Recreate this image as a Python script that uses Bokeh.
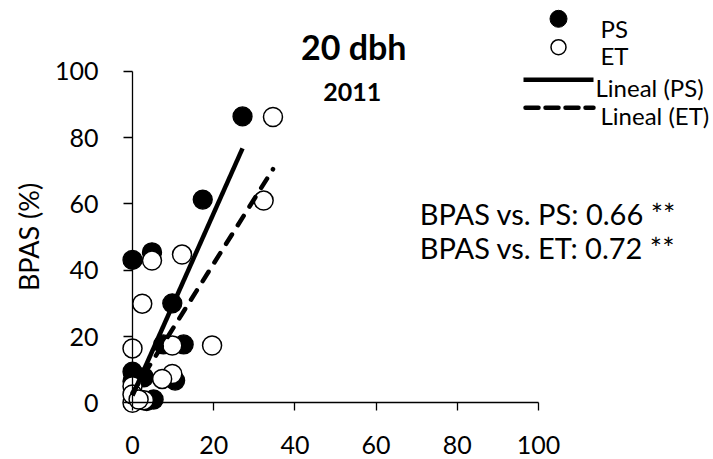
from bokeh.plotting import figure
from bokeh.models import Range1d, FixedTicker, Label
from bokeh.embed import file_html
from bokeh.resources import INLINE

# ---- data ----
ps_x = [27.1, 17.3, 0.0, 4.8, 9.8, 12.6, 7.6, 10.5, 0.0, 0.0, 2.8, 5.2, 0.5, 3.5]
ps_y = [86.4, 61.3, 43.1, 45.4, 30.0, 17.6, 17.6, 6.7, 9.4, 6.5, 7.7, 1.0, 2.0, 0.5]
et_x = [34.6, 32.3, 12.2, 4.8, 2.4, 0.0, 19.6, 9.8, 9.8, 7.3, 0.0, 0.0, 2.8, 0.0, 1.5]
et_y = [86.2, 61.0, 44.7, 42.9, 29.9, 16.4, 17.3, 17.3, 8.7, 7.2, 5.0, 0.0, 0.8, 2.5, 1.0]
trend_ps = [2.2, 2.75]   # intercept, slope
trend_et = [3.0, 1.95]
x_ticks = [0, 20, 40, 60, 80, 100]
y_ticks = [0, 20, 40, 60, 80, 100]
corr_labels = ["BPAS vs. PS: 0.66 **", "BPAS vs. ET: 0.72 **"]
legend_labels = ["PS", "ET", "Lineal (PS)", "Lineal (ET)"]
title_text = "20 dbh"
subtitle_text = "2011"

# ---- layout (pixels in figure space) ----
W, H = 713, 459
X0PX, XSCALE = 132.0, 4.06     # data x=0 at px 132, px per unit
Y0PX, YSCALE = 402.3, 3.315    # data y=0 at px 402.3, px per unit

def dx(px):
    return (px - X0PX) / XSCALE

def dy(py):
    return (Y0PX - py) / YSCALE

FONT = "Lato"

p = figure(width=W, height=H, x_range=Range1d(dx(0), dx(W)), y_range=Range1d(dy(H), dy(0)),
           output_backend="svg", toolbar_location=None, min_border=0,
           outline_line_color=None, background_fill_color="white")
p.xgrid.visible = False
p.ygrid.visible = False

for ax, ticks in ((p.xaxis[0], x_ticks), (p.yaxis[0], y_ticks)):
    ax.fixed_location = 0
    ax.bounds = (0, 100)
    ax.ticker = FixedTicker(ticks=ticks)
    ax.minor_tick_line_color = None
    ax.major_tick_in = 0
    ax.axis_line_color = "black"
    ax.axis_line_width = 1.3
    ax.major_tick_line_color = "black"
    ax.major_tick_line_width = 1.3
    ax.major_label_text_font = FONT
    ax.major_label_text_font_size = "25px"
    ax.major_label_text_color = "black"

p.xaxis[0].major_tick_out = 8
p.xaxis[0].major_label_standoff = 25
p.yaxis[0].major_tick_out = 9
p.yaxis[0].major_label_standoff = 25
p.yaxis[0].axis_label = "BPAS (%)"
p.yaxis[0].axis_label_text_font = FONT
p.yaxis[0].axis_label_text_font_size = "27px"
p.yaxis[0].axis_label_text_font_style = "normal"
p.yaxis[0].axis_label_text_color = "black"
p.yaxis[0].axis_label_standoff = 7

# scatter series
p.scatter(ps_x, ps_y, size=19, marker="circle", fill_color="black", line_color="black", line_width=1.3)
p.scatter(et_x, et_y, size=19, marker="circle", fill_color="white", line_color="black", line_width=1.5)

# trend lines
xs_ps = [min(ps_x), max(ps_x)]
xs_et = [min(et_x), max(et_x)]
p.line(xs_ps, [trend_ps[0] + trend_ps[1] * v for v in xs_ps], line_color="black", line_width=4.5)
p.line(xs_et, [trend_et[0] + trend_et[1] * v for v in xs_et], line_color="black", line_width=4.5,
       line_dash="11 11", line_cap="round")

# legend (drawn by hand to match the original layout)
p.scatter([dx(558)], [dy(18.3)], size=17, marker="circle", fill_color="black", line_color="black")
p.scatter([dx(558)], [dy(46.7)], size=15, marker="circle", fill_color="white", line_color="black", line_width=1.5)
p.line([dx(523), dx(593)], [dy(79.3), dy(79.3)], line_color="black", line_width=4.5)
p.line([dx(525), dx(593)], [dy(107.3), dy(107.3)], line_color="black", line_width=4.5,
       line_dash="13 7", line_cap="round")
leg_pos = [(600, 28.0), (600, 55.0), (595, 87.3), (600, 115.0)]
for txt, (lx, ly) in zip(legend_labels, leg_pos):
    p.add_layout(Label(x=dx(lx), y=dy(ly), text=txt, text_font=FONT, text_font_size="24px",
                       text_baseline="alphabetic", text_align="left", text_color="black"))

# titles
p.add_layout(Label(x=dx(353.3), y=dy(45.7), text=title_text, text_font=FONT, text_font_size="34px",
                   text_font_style="bold", text_baseline="alphabetic", text_align="center", text_color="black"))
p.add_layout(Label(x=dx(351.7), y=dy(91.7), text=subtitle_text, text_font=FONT, text_font_size="25px",
                   text_font_style="bold", text_baseline="alphabetic", text_align="center", text_color="black"))

# correlation annotations
for txt, by in zip(corr_labels, [213.3, 246.7]):
    p.add_layout(Label(x=dx(419.3), y=dy(by), text=txt, text_font=FONT, text_font_size="29px",
                       text_baseline="alphabetic", text_align="left", text_color="black"))

open("out.html", "w").write(file_html(p, INLINE))
